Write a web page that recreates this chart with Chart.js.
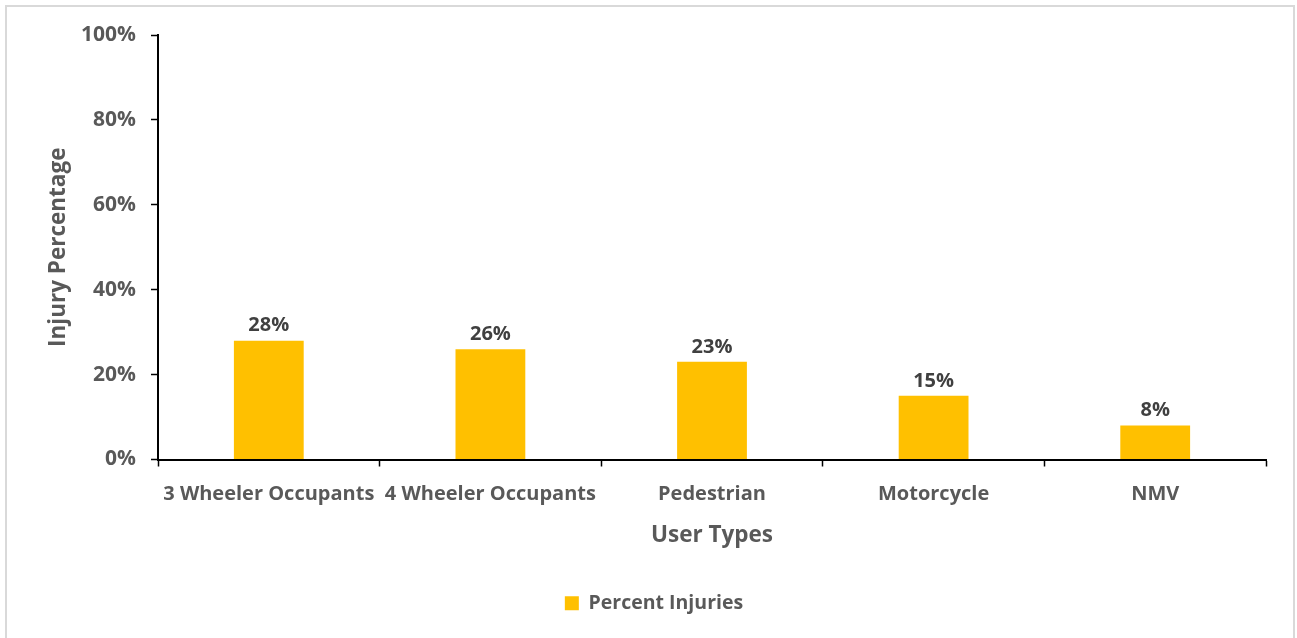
<!DOCTYPE html>
<html>
<head>
<meta charset="utf-8">
<title>Injury Percentage by User Type</title>
<script src="https://cdn.jsdelivr.net/npm/chart.js@4.4.1/dist/chart.umd.min.js"></script>
<style>
  html, body { margin: 0; padding: 0; background: #ffffff; }
  #wrap { position: relative; width: 1297px; height: 638px; }
</style>
</head>
<body>
<div id="wrap"><canvas id="chart" width="1297" height="638"></canvas></div>
<script>
// Share of injuries by road user type
const categories = ['3 Wheeler Occupants', '4 Wheeler Occupants', 'Pedestrian', 'Motorcycle', 'NMV'];
const percentInjuries = [28, 26, 23, 15, 8];
const seriesName = 'Percent Injuries';
const xTitle = 'User Types';
const yTitle = 'Injury Percentage';

const FONT = '"Open Sans", Lato, "Liberation Sans", sans-serif';
const TEXT_GREY = '#595959';
const BAR_GOLD = '#FFC000';

// Light frame around the whole figure
const framePlugin = {
  id: 'frame',
  beforeDraw(chart) {
    const ctx = chart.ctx;
    ctx.save();
    ctx.fillStyle = '#ffffff';
    ctx.fillRect(0, 0, chart.width, chart.height);
    ctx.strokeStyle = '#d9d9d9';
    ctx.lineWidth = 2;
    ctx.strokeRect(6, 6, 1288, 640);
    ctx.restore();
  }
};

// Value labels above each bar
const valueLabels = {
  id: 'valueLabels',
  afterDatasetsDraw(chart) {
    const ctx = chart.ctx;
    const meta = chart.getDatasetMeta(0);
    const values = chart.data.datasets[0].data;
    ctx.save();
    ctx.font = 'bold 20px ' + FONT;
    ctx.fillStyle = '#404040';
    ctx.textAlign = 'center';
    ctx.textBaseline = 'bottom';
    meta.data.forEach((bar, i) => {
      ctx.fillText(values[i] + '%', bar.x, bar.y - 5);
    });
    ctx.restore();
  }
};

new Chart(document.getElementById('chart'), {
  type: 'bar',
  data: {
    labels: categories,
    datasets: [{
      label: seriesName,
      data: percentInjuries,
      backgroundColor: BAR_GOLD,
      borderWidth: 0,
      barPercentage: 0.63,
      categoryPercentage: 0.5
    }]
  },
  options: {
    responsive: false,
    animation: false,
    layout: { padding: { top: 35, right: 31, left: 42, bottom: 15 } },
    plugins: {
      legend: {
        display: true,
        position: 'bottom',
        labels: {
          boxWidth: 14,
          boxHeight: 14,
          color: TEXT_GREY,
          font: { family: FONT, size: 19.5, weight: 'bold' },
          padding: 10
        }
      },
      tooltip: { enabled: false }
    },
    scales: {
      x: {
        grid: {
          drawOnChartArea: false,
          drawTicks: true,
          tickLength: 7,
          tickWidth: 1.5,
          tickColor: '#000000',
          offset: true
        },
        border: { display: true, color: '#000000', width: 2 },
        ticks: {
          color: TEXT_GREY,
          font: { family: FONT, size: 20, weight: 'bold' },
          padding: 16,
          maxRotation: 0,
          autoSkip: false
        },
        title: {
          display: true,
          text: xTitle,
          color: TEXT_GREY,
          font: { family: FONT, size: 22.5, weight: 'bold' },
          padding: { top: 6, bottom: 34 }
        },
        afterFit(scale) { scale.height = 124; }
      },
      y: {
        min: 0,
        max: 100,
        grid: {
          drawOnChartArea: false,
          drawTicks: true,
          tickLength: 7,
          tickWidth: 1.5,
          tickColor: '#000000'
        },
        border: { display: true, color: '#000000', width: 2 },
        ticks: {
          stepSize: 20,
          color: TEXT_GREY,
          font: { family: FONT, size: 21, weight: 'bold' },
          padding: 15,
          callback: (v) => v + '%'
        },
        title: {
          display: true,
          text: yTitle,
          color: TEXT_GREY,
          font: { family: FONT, size: 22.5, weight: 'bold' },
          padding: { top: 3, bottom: 0 }
        },
        afterFit(scale) { scale.width = 116; }
      }
    }
  },
  plugins: [framePlugin, valueLabels]
});
</script>
</body>
</html>
